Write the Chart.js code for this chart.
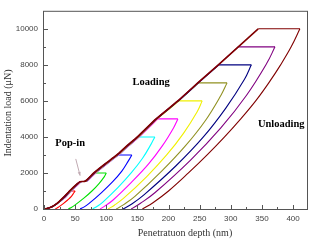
<!DOCTYPE html>
<html>
<head>
<meta charset="utf-8">
<script src="https://cdn.jsdelivr.net/npm/chart.js@4.4.0/dist/chart.umd.min.js"></script>
<style>
  html, body { margin: 0; padding: 0; background: #fff; }
  #wrap { width: 313px; height: 242px; }
</style>
</head>
<body>
<div id="wrap"><canvas id="loadChart"></canvas></div>
<script>
// Loading envelope shared by all cycles (depth in nm, load in uN)
const envDepth = [0, 10, 20, 30, 41, 50, 58, 66, 80, 98, 117, 133, 150, 180, 215, 247, 280, 312, 344];
const envLoad  = [0, 80, 280, 600, 1000, 1300, 1520, 1540, 2000, 2500, 3000, 3500, 4000, 5000, 6000, 7000, 8000, 9000, 10000];

// small depth offset of each cycle's loading branch from the envelope
const loadShift = [0, 1, 2, 3, 3, 2, 1, 1, 0, 0];

// Peak load of each cycle and depth at the end of the hold
const peakLoad = [1000, 2000, 3000, 4000, 5000, 6000, 7000, 8000, 9000, 10000];
const holdEnd  = [50, 100, 141, 178, 215, 254, 294, 333, 371, 411];

// Unloading curves
const unloadDepth = [
  [50, 48, 44, 38, 31, 23, 20, 18],
  [100, 97, 88, 77, 64, 49, 43, 39],
  [141, 136, 125, 110, 92, 72, 64, 58],
  [178, 172, 158, 140, 119, 95, 85, 78],
  [215, 208, 190, 168, 141, 111, 98, 90],
  [254, 246, 224, 197, 165, 128, 113, 103],
  [294, 284, 259, 227, 189, 146, 128, 116],
  [333, 322, 292, 256, 212, 161, 141, 127],
  [371, 358, 325, 284, 235, 178, 155, 140],
  [411, 397, 380, 361, 340, 316, 290, 262, 232, 200, 175, 158]
];
const unloadLoad = [
  [1000, 900, 700, 500, 300, 100, 35, 0],
  [2000, 1800, 1400, 1000, 600, 200, 70, 0],
  [3000, 2700, 2100, 1500, 900, 300, 105, 0],
  [4000, 3600, 2800, 2000, 1200, 400, 140, 0],
  [5000, 4500, 3500, 2500, 1500, 500, 175, 0],
  [6000, 5400, 4200, 3000, 1800, 600, 210, 0],
  [7000, 6300, 4900, 3500, 2100, 700, 245, 0],
  [8000, 7200, 5600, 4000, 2400, 800, 280, 0],
  [9000, 8100, 6300, 4500, 2700, 900, 315, 0],
  [10000, 9000, 8000, 7000, 6000, 5000, 4000, 3000, 2000, 1000, 350, 0]
];

const lineColors = ['#ff0000', '#00e000', '#0000ff', '#00ffff', '#ff00ff', '#f0f000', '#909020', '#000080', '#800080', '#800000'];

const xTicks = [0, 50, 100, 150, 200, 250, 300, 350, 400];
const yTicks = [0, 2000, 4000, 6000, 8000, 10000];

// build the datasets: loading, hold and unloading as separate pieces
const datasets = [];
peakLoad.forEach((pk, i) => {
  const loadPts = [];
  envDepth.forEach((d, j) => {
    if (envLoad[j] <= pk) loadPts.push({ x: d + (j > 2 ? loadShift[i] : 0), y: envLoad[j] });
  });
  const top = loadPts[loadPts.length - 1];
  const holdPts = [top, { x: holdEnd[i], y: pk }];
  const unloadPts = unloadDepth[i].map((d, j) => ({ x: d, y: unloadLoad[i][j] }));
  const base = {
    borderColor: lineColors[i],
    borderWidth: 1.1,
    pointRadius: 0,
    showLine: true,
    fill: false,
    order: peakLoad.length - i
  };
  const last = i === peakLoad.length - 1;
  datasets.push({ ...base, data: loadPts, tension: 0.2, borderWidth: last ? 1.6 : 1.1 });
  datasets.push({ ...base, data: holdPts, tension: 0 });
  datasets.push({ ...base, data: unloadPts, tension: 0.4 });
});

// frame, inward ticks, titles and annotations
const framePlugin = {
  id: 'frame',
  afterDraw(chart) {
    const { ctx, chartArea: a, scales: { x, y } } = chart;
    ctx.save();
    ctx.strokeStyle = '#555';
    ctx.lineWidth = 1;
    ctx.strokeRect(a.left - 0.5, a.top + 0.5, a.right - a.left, a.bottom - a.top);

    const tick = (x1, y1, x2, y2) => {
      ctx.beginPath();
      ctx.moveTo(x1, y1);
      ctx.lineTo(x2, y2);
      ctx.stroke();
    };
    // x ticks with minor ones halfway
    xTicks.forEach((v, i) => {
      const px = Math.round(x.getPixelForValue(v)) + 0.5;
      tick(px, a.bottom, px, a.bottom - 4);
      if (i < xTicks.length - 1) {
        const mx = Math.round(x.getPixelForValue((v + xTicks[i + 1]) / 2)) + 0.5;
        tick(mx, a.bottom, mx, a.bottom - 2);
      }
    });
    yTicks.forEach((v, i) => {
      const py = Math.round(y.getPixelForValue(v)) + 0.5;
      tick(a.left, py, a.left + 4, py);
      if (i < yTicks.length - 1) {
        const my = Math.round(y.getPixelForValue((v + yTicks[i + 1]) / 2)) + 0.5;
        tick(a.left, my, a.left + 2, my);
      }
    });

    // axis titles
    ctx.fillStyle = '#333';
    ctx.font = '10px "Liberation Serif", "Times New Roman", serif';
    ctx.textAlign = 'center';
    ctx.textBaseline = 'middle';
    ctx.fillText('Penetratuon depth (nm)', 185, 233);
    ctx.save();
    ctx.translate(8, 113);
    ctx.rotate(-Math.PI / 2);
    ctx.fillText('Indentation load (\u03bcN)', 0, 0);
    ctx.restore();

    // annotations
    ctx.fillStyle = '#000';
    ctx.font = 'bold 10.5px "Liberation Serif", "Times New Roman", serif';
    ctx.fillText('Loading', x.getPixelForValue(172), y.getPixelForValue(7050));
    ctx.fillText('Unloading', x.getPixelForValue(381), y.getPixelForValue(4700));
    ctx.fillText('Pop-in', x.getPixelForValue(42), y.getPixelForValue(3630));

    // pop-in arrow
    const ax1 = x.getPixelForValue(51), ay1 = y.getPixelForValue(2780);
    const ax2 = x.getPixelForValue(58), ay2 = y.getPixelForValue(1850);
    ctx.strokeStyle = '#c0aab2';
    ctx.fillStyle = '#c0aab2';
    ctx.lineWidth = 1;
    tick(ax1, ay1, ax2, ay2);
    const ang = Math.atan2(ay2 - ay1, ax2 - ax1);
    ctx.beginPath();
    ctx.moveTo(ax2, ay2);
    ctx.lineTo(ax2 - 4 * Math.cos(ang - 0.4), ay2 - 4 * Math.sin(ang - 0.4));
    ctx.lineTo(ax2 - 4 * Math.cos(ang + 0.4), ay2 - 4 * Math.sin(ang + 0.4));
    ctx.closePath();
    ctx.fill();
    ctx.restore();
  }
};

const ctx = document.getElementById('loadChart').getContext('2d');
const loadChart = new Chart(ctx, {
  type: 'scatter',
  data: { datasets: datasets },
  options: {
    responsive: true,
    maintainAspectRatio: false,
    animation: false,
    layout: { padding: { left: 0, right: 5, top: 3, bottom: 0 } },
    plugins: {
      legend: { display: false },
      tooltip: { enabled: false }
    },
    scales: {
      x: {
        type: 'linear',
        min: 0,
        max: 424,
        grid: { display: false, drawTicks: false },
        border: { display: false },
        afterBuildTicks: s => { s.ticks = xTicks.map(v => ({ value: v })); },
        afterFit: s => { s.height = 33; },
        ticks: {
          padding: 5,
          maxRotation: 0,
          color: '#444',
          font: { family: '"Liberation Sans", Arial, sans-serif', size: 8 },
          callback: v => String(v)
        }
      },
      y: {
        type: 'linear',
        min: 0,
        max: 11000,
        grid: { display: false, drawTicks: false },
        border: { display: false },
        afterBuildTicks: s => { s.ticks = yTicks.map(v => ({ value: v })); },
        afterFit: s => { s.width = 44; },
        ticks: {
          padding: 6,
          color: '#444',
          font: { family: '"Liberation Sans", Arial, sans-serif', size: 8 },
          callback: v => String(v)
        }
      }
    }
  },
  plugins: [framePlugin]
});
</script>
</body>
</html>
